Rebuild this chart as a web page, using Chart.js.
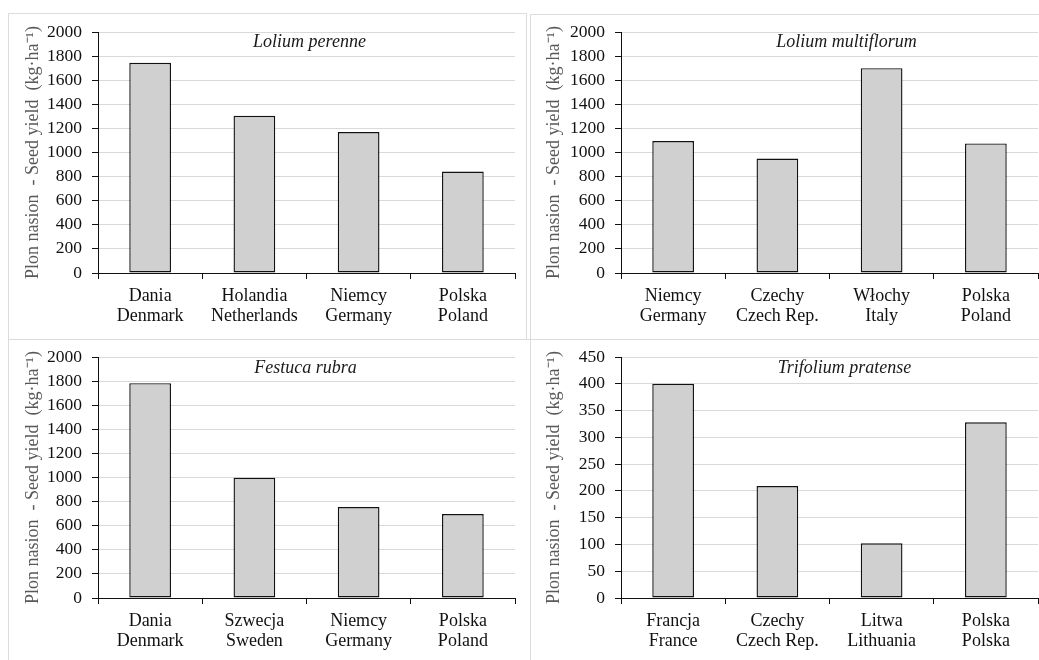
<!DOCTYPE html>
<html>
<head>
<meta charset="utf-8">
<script src="https://cdn.jsdelivr.net/npm/chart.js@4/dist/chart.umd.min.js"></script>
<style>
  html, body { margin:0; padding:0; background:#fff; }
  body { width:1039px; height:660px; position:relative; overflow:hidden; }
  .box { position:absolute; border:1px solid #dcdcdc; box-sizing:border-box; }
  .cv { position:absolute; }
</style>
</head>
<body>
<div class="box" style="left:8px;top:13px;width:519px;height:327px;"></div>
<div class="box" style="left:530px;top:14px;width:600px;height:326px;"></div>
<div class="box" style="left:8px;top:339px;width:523px;height:400px;"></div>
<div class="box" style="left:530px;top:339px;width:600px;height:400px;"></div>

<div class="cv" style="left:0px;top:0px;width:520px;height:330px;"><canvas id="c1"></canvas></div>
<div class="cv" style="left:520px;top:0px;width:519px;height:330px;"><canvas id="c2"></canvas></div>
<div class="cv" style="left:0px;top:330px;width:520px;height:330px;"><canvas id="c3"></canvas></div>
<div class="cv" style="left:520px;top:330px;width:519px;height:330px;"><canvas id="c4"></canvas></div>

<script>
// ---- Data ----
const yAxisTitle = 'Plon nasion  - Seed yield  (kg\u00B7ha\u207B\u00B9)';

const titleA = 'Lolium perenne';
const categoriesA = [['Dania', 'Denmark'], ['Holandia', 'Netherlands'], ['Niemcy', 'Germany'], ['Polska', 'Poland']];
const valuesA = [1745, 1305, 1170, 842];

const titleB = 'Lolium multiflorum';
const categoriesB = [['Niemcy', 'Germany'], ['Czechy', 'Czech Rep.'], ['W\u0142ochy', 'Italy'], ['Polska', 'Poland']];
const valuesB = [1095, 950, 1700, 1075];

const titleC = 'Festuca rubra';
const categoriesC = [['Dania', 'Denmark'], ['Szwecja', 'Sweden'], ['Niemcy', 'Germany'], ['Polska', 'Poland']];
const valuesC = [1783, 997, 755, 697];

const titleD = 'Trifolium pratense';
const categoriesD = [['Francja', 'France'], ['Czechy', 'Czech Rep.'], ['Litwa', 'Lithuania'], ['Polska', 'Polska']];
const valuesD = [400, 209, 102, 328];

const yTicksAB = [0, 200, 400, 600, 800, 1000, 1200, 1400, 1600, 1800, 2000];
const yTicksD = [0, 50, 100, 150, 200, 250, 300, 350, 400, 450];

// ---- Rendering ----
const SERIF = '"Liberation Serif", "Times New Roman", serif';

const innerTitle = {
  id: 'innerTitle',
  afterDatasetsDraw(chart, args, opts) {
    const a = chart.chartArea;
    const ctx = chart.ctx;
    ctx.save();
    ctx.font = 'italic 18px ' + SERIF;
    ctx.fillStyle = '#1a1a1a';
    ctx.textAlign = 'center';
    ctx.textBaseline = 'middle';
    ctx.fillText(opts.text, (a.left + a.right) / 2 + opts.dx, a.top + opts.dy);
    ctx.restore();
  }
};

function makeChart(id, title, labels, values, ticks, lay) {
  const yMax = ticks[ticks.length - 1];
  const step = ticks[1] - ticks[0];
  return new Chart(document.getElementById(id), {
    type: 'bar',
    data: {
      labels: labels,
      datasets: [{
        data: values,
        backgroundColor: '#d0d0d0',
        borderColor: '#111111',
        borderWidth: 1.4,
        borderSkipped: false,
        barPercentage: 0.4,
        categoryPercentage: 1.0
      }]
    },
    options: {
      responsive: true,
      maintainAspectRatio: false,
      animation: false,
      events: [],
      layout: { padding: { left: 0, right: lay.padRight, top: lay.padTop, bottom: 0 } },
      plugins: {
        legend: { display: false },
        tooltip: { enabled: false },
        innerTitle: { text: title, dx: lay.titleDx, dy: lay.titleDy }
      },
      scales: {
        x: {
          grid: { offset: true, drawOnChartArea: false, drawTicks: true, tickLength: 6, tickColor: '#111111', tickWidth: 1 },
          border: { display: true, color: '#111111', width: 1 },
          ticks: { color: '#111111', font: { family: SERIF, size: 18, lineHeight: 1.07 }, padding: 8, maxRotation: 0, autoSkip: false },
          afterFit(scale) { scale.height = lay.xHeight; }
        },
        y: {
          min: 0, max: yMax,
          ticks: {
            stepSize: step, color: '#111111', font: { family: SERIF, size: 17.5 }, padding: 10,
            callback: (v) => String(v)
          },
          grid: { color: '#d9d9d9', lineWidth: 1, drawTicks: true, tickLength: 6, tickColor: '#111111' },
          border: { display: true, color: '#111111', width: 1 },
          title: {
            display: true, text: yAxisTitle, color: '#595959',
            font: { family: SERIF, size: 18 }, padding: { top: lay.yTitlePad, bottom: 0 }
          },
          afterFit(scale) { scale.width = lay.yWidth; }
        }
      }
    },
    plugins: [innerTitle]
  });
}

makeChart('c1', titleA, categoriesA, valuesA, yTicksAB, { yWidth: 98, padRight: 5, padTop: 32, xHeight: 57, titleDx: 3, titleDy: 10.5, yTitlePad: 22 });
makeChart('c2', titleB, categoriesB, valuesB, yTicksAB, { yWidth: 101, padRight: 1, padTop: 32, xHeight: 57, titleDx: 17, titleDy: 10.5, yTitlePad: 23 });
makeChart('c3', titleC, categoriesC, valuesC, yTicksAB, { yWidth: 98, padRight: 5, padTop: 27, xHeight: 62, titleDx: -1, titleDy: 11, yTitlePad: 22 });
makeChart('c4', titleD, categoriesD, valuesD, yTicksD, { yWidth: 101, padRight: 1, padTop: 27, xHeight: 62, titleDx: 15, titleDy: 11, yTitlePad: 23 });
</script>
</body>
</html>
